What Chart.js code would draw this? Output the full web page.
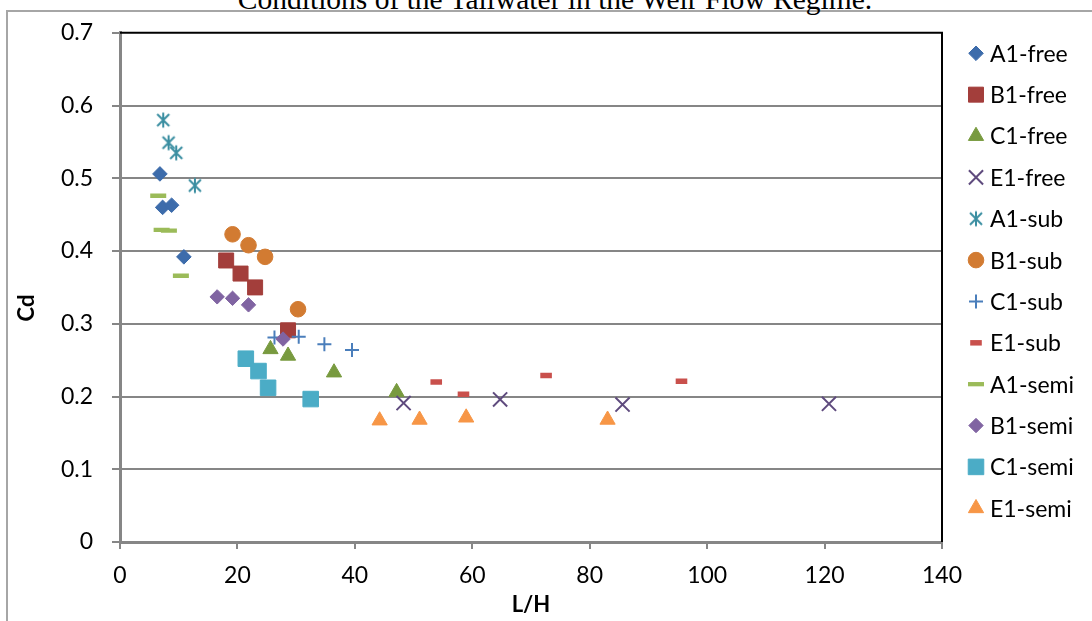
<!DOCTYPE html>
<html>
<head>
<meta charset="utf-8">
<title>Cd vs L/H</title>
<script src="https://cdn.jsdelivr.net/npm/chart.js@4/dist/chart.umd.min.js"></script>
<style>
  html, body { margin: 0; padding: 0; background: #fff; }
  #wrap { position: relative; width: 1092px; height: 621px; overflow: hidden; background: #fff; }
  #frame { position: absolute; left: 6px; top: 10px; width: 1200px; height: 700px;
           border-top: 2px solid #a6a6a6; border-left: 2px solid #a6a6a6; }
  #caption { position: absolute; left: 0; top: -15px; width: 1110px; text-align: center;
             font-family: "Liberation Serif", "Times New Roman", serif; font-size: 29.5px;
             line-height: 29.5px; color: #000; white-space: nowrap; }
  #c { position: absolute; left: 0; top: 0; }
</style>
</head>
<body>
<div id="wrap">
  <div id="frame"></div>
  <div id="caption">Conditions of the Tailwater in the Weir Flow Regime.</div>
  <canvas id="c" width="1092" height="621"></canvas>
</div>
<script>
// Axis ticks
const xTickValues = [0, 20, 40, 60, 80, 100, 120, 140];
const xTickLabels = ['0', '20', '40', '60', '80', '100', '120', '140'];
const yTickValues = [0, 0.1, 0.2, 0.3, 0.4, 0.5, 0.6, 0.7];
const yTickLabels = ['0', '0.1', '0.2', '0.3', '0.4', '0.5', '0.6', '0.7'];
const xAxisTitle = 'L/H';
const yAxisTitle = 'Cd';

// Series: L/H (x) and Cd (y)
const seriesNames = ['A1-free', 'B1-free', 'C1-free', 'E1-free',
                     'A1-sub', 'B1-sub', 'C1-sub', 'E1-sub',
                     'A1-semi', 'B1-semi', 'C1-semi', 'E1-semi'];

const a1FreeX = [6.80, 7.26, 8.79, 10.88];
const a1FreeY = [0.506, 0.460, 0.463, 0.392];
const b1FreeX = [18.08, 20.53, 23.01, 28.62];
const b1FreeY = [0.387, 0.369, 0.350, 0.291];
const c1FreeX = [25.63, 28.62, 36.45, 47.11];
const c1FreeY = [0.265, 0.256, 0.233, 0.206];
const e1FreeX = [48.30, 64.74, 85.59, 120.75];
const e1FreeY = [0.191, 0.196, 0.189, 0.190];

const a1SubX = [7.36, 8.28, 9.57, 12.76];
const a1SubY = [0.580, 0.549, 0.535, 0.490];
const b1SubX = [19.17, 21.89, 24.71, 30.32];
const b1SubY = [0.423, 0.408, 0.392, 0.320];
const c1SubX = [26.31, 30.44, 34.81, 39.51];
const c1SubY = [0.281, 0.282, 0.272, 0.264];
const e1SubX = [53.86, 58.50, 72.57, 95.63];
const e1SubY = [0.220, 0.203, 0.229, 0.221];

const a1SemiX = [6.51, 7.09, 8.33, 10.37];
const a1SemiY = [0.476, 0.429, 0.428, 0.366];
const b1SemiX = [16.55, 19.17, 21.89, 27.77];
const b1SemiY = [0.337, 0.335, 0.326, 0.279];
const c1SemiX = [21.43, 23.59, 25.22, 32.48];
const c1SemiY = [0.252, 0.235, 0.212, 0.1965];
const e1SemiX = [44.22, 51.02, 58.96, 83.04];
const e1SemiY = [0.167, 0.168, 0.171, 0.168];

const seriesX = [a1FreeX, b1FreeX, c1FreeX, e1FreeX, a1SubX, b1SubX, c1SubX, e1SubX, a1SemiX, b1SemiX, c1SemiX, e1SemiX];
const seriesY = [a1FreeY, b1FreeY, c1FreeY, e1FreeY, a1SubY, b1SubY, c1SubY, e1SubY, a1SemiY, b1SemiY, c1SemiY, e1SemiY];

// Asterisk marker: an X with a vertical stroke
function makeAsterisk(color) {
  const c = document.createElement('canvas');
  c.width = 18; c.height = 18;
  const g = c.getContext('2d');
  g.strokeStyle = color; g.lineWidth = 2; g.lineCap = 'butt';
  g.beginPath();
  g.moveTo(3, 3); g.lineTo(15, 15);
  g.moveTo(15, 3); g.lineTo(3, 15);
  g.moveTo(9, 1.5); g.lineTo(9, 16.5);
  g.stroke();
  return c;
}

// Marker styles per series
const markerStyles = [
  { color: '#3D6CAB', style: 'rectRot',  radius: 7.3, border: 1 },
  { color: '#A33E3B', style: 'rect',     radius: 10.6, border: 1 },
  { color: '#789A3F', style: 'triangle', radius: 8.8, border: 1 },
  { color: '#5F4B7E', style: 'crossRot', radius: 10,  border: 2 },
  { color: '#3A8EA1', style: makeAsterisk('#3A8EA1'), radius: 9, border: 0 },
  { color: '#D27B32', style: 'circle',   radius: 7.8, border: 1 },
  { color: '#4A7EBB', style: 'cross',    radius: 7,   border: 2 },
  { color: '#C9504C', style: 'line',     radius: 5.8, border: 5.5 },
  { color: '#9BBB59', style: 'line',     radius: 8,   border: 4.3 },
  { color: '#8064A2', style: 'rectRot',  radius: 7.2, border: 1 },
  { color: '#4BACC6', style: 'rect',     radius: 11,  border: 1 },
  { color: '#F79646', style: 'triangle', radius: 8.8, border: 1 }
];

const datasets = seriesNames.map((name, i) => ({
  label: name,
  data: seriesX[i].map((x, k) => ({ x: x, y: seriesY[i][k] })),
  showLine: false,
  pointStyle: markerStyles[i].style,
  pointRadius: markerStyles[i].radius,
  pointBorderWidth: markerStyles[i].border,
  backgroundColor: markerStyles[i].color,
  borderColor: markerStyles[i].color,
  pointHoverRadius: markerStyles[i].radius,
  order: -i
}));

const tickFont = { family: 'Lato', size: 23 };
const titleFont = { family: 'Lato', size: 22, weight: 'bold' };
const axisGray = '#868686';

// Plot-area frame (top and right edges)
const plotFrame = {
  id: 'plotFrame',
  beforeDatasetsDraw(chart) {
    const { ctx, chartArea: a } = chart;
    ctx.save();
    ctx.strokeStyle = '#000';
    ctx.lineWidth = 2;
    ctx.beginPath();
    ctx.moveTo(a.left, a.top);
    ctx.lineTo(a.right, a.top);
    ctx.lineTo(a.right, a.bottom);
    ctx.stroke();
    ctx.restore();
  }
};

// Vertical axis title, placed a little below the axis middle
const yTitle = {
  id: 'yTitle',
  afterDraw(chart) {
    const ctx = chart.ctx;
    ctx.save();
    ctx.translate(27, 308);
    ctx.rotate(-Math.PI / 2);
    ctx.font = 'bold 22px Lato';
    ctx.fillStyle = '#000';
    ctx.textAlign = 'center';
    ctx.textBaseline = 'middle';
    ctx.fillText(yAxisTitle, 0, 0);
    ctx.restore();
  }
};

// Legend column to the right of the plot
const sideLegend = {
  id: 'sideLegend',
  afterDraw(chart) {
    const ctx = chart.ctx;
    const markerX = 976, textX = 990, firstY = 53.3, step = 41.36;
    ctx.save();
    chart.data.datasets.forEach((ds, i) => {
      const y = firstY + i * step;
      ctx.fillStyle = ds.backgroundColor;
      ctx.strokeStyle = ds.borderColor;
      ctx.lineWidth = ds.pointBorderWidth;
      Chart.helpers.drawPoint(ctx, {
        pointStyle: ds.pointStyle,
        radius: ds.pointRadius,
        borderWidth: ds.pointBorderWidth,
        rotation: 0
      }, markerX, y);
      ctx.fillStyle = '#000';
      ctx.font = '23px Lato';
      ctx.textBaseline = 'middle';
      ctx.textAlign = 'left';
      ctx.fillText(ds.label, textX, y + 1);
    });
    ctx.restore();
  }
};

new Chart(document.getElementById('c'), {
  type: 'scatter',
  data: { datasets },
  plugins: [plotFrame, sideLegend, yTitle],
  options: {
    responsive: false,
    animation: false,
    devicePixelRatio: 1,
    layout: { padding: { left: 0, right: 150, top: 28, bottom: 0 } },
    plugins: {
      legend: { display: false },
      tooltip: { enabled: false },
      title: { display: false }
    },
    scales: {
      x: {
        type: 'linear',
        position: 'bottom',
        min: 0, max: 140,
        afterBuildTicks: s => { s.ticks = xTickValues.map(v => ({ value: v })); },
        afterFit: s => { s.height = 79; },
        ticks: {
          callback: (v, i) => xTickLabels[i],
          font: tickFont, color: '#000', padding: 13,
          maxRotation: 0, autoSkip: false
        },
        grid: { drawOnChartArea: false, drawTicks: true, tickLength: 7, tickColor: axisGray, tickWidth: 2, color: axisGray, lineWidth: 2 },
        border: { display: true, color: axisGray, width: 3 },
        title: { display: true, text: xAxisTitle, font: titleFont, color: '#000', padding: { top: 0, bottom: 3 } }
      },
      y: {
        type: 'linear',
        position: 'left',
        min: 0, max: 0.7,
        afterBuildTicks: s => { s.ticks = yTickValues.map(v => ({ value: v })); },
        afterFit: s => { s.width = 120; },
        ticks: {
          callback: (v, i) => yTickLabels[i],
          font: tickFont, color: '#000', padding: 19
        },
        grid: {
          drawTicks: true, tickLength: 8, tickColor: axisGray, tickWidth: 2, lineWidth: 2,
          color: c => (c.tick && (c.tick.value === 0 || c.tick.value === 0.7)) ? 'rgba(0,0,0,0)' : axisGray
        },
        border: { display: true, color: axisGray, width: 3 },
        title: { display: false }
      }
    }
  }
});
</script>
</body>
</html>
